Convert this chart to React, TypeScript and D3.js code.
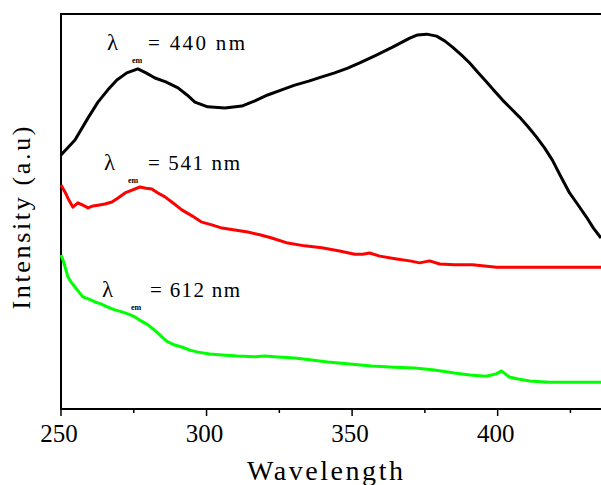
import React, { useRef, useEffect } from "react";
import * as d3 from "d3";

// excitation spectra (wavelength nm / intensity a.u.)
const blackX = [250, 254.8, 259.3, 262.7, 266.1, 269.2, 272.6, 276.4, 279.2, 282.3, 286, 290.2, 293.3, 296, 300.4, 306.3, 312.1, 316.6, 321, 325.8, 330.3, 335.1, 339.6, 344, 348.5, 352.6, 357.8, 363.9, 369.8, 372.5, 375.6, 379, 381.8, 384.5, 387.6, 390.4, 393.1, 396.2, 398.9, 401.7, 404.4, 407.5, 410.3, 413.3, 416.1, 418.8, 421.6, 424.7, 427.4, 430.5, 432.9, 435.5];
const blackY = [64.3, 68.1, 73.7, 77.7, 80.8, 83.3, 85.1, 86.1, 85.1, 83.8, 82.8, 81.3, 79.5, 77.7, 76.5, 76.2, 76.7, 78, 79.5, 80.8, 82, 83, 84.1, 85.1, 86.3, 87.6, 89.4, 91.6, 93.9, 94.7, 94.9, 94.4, 93.2, 91.6, 89.6, 87.6, 85.3, 82.8, 80.5, 78.2, 76.2, 73.9, 71.6, 68.9, 66.1, 63, 59, 54.7, 51.9, 48.6, 45.8, 43.3];

const redX = [250, 251.4, 252.7, 254.1, 255.8, 257.5, 259.3, 261, 262.7, 265.1, 267.5, 269.6, 272, 274.4, 277.1, 279.2, 281.2, 283.3, 285.7, 288.4, 291.5, 295, 298.4, 301.8, 305.3, 309.7, 314.2, 318.3, 322.4, 327.9, 333.7, 339.6, 345.7, 350.9, 353.6, 356, 359.5, 365.3, 369.8, 373.2, 376.6, 380.1, 385.2, 391.4, 395.5, 399.6, 407.5, 417.8, 427.4, 435.5];
const redY = [56.7, 54.9, 52.9, 51.1, 52.2, 51.6, 50.9, 51.4, 51.6, 51.9, 52.4, 53.4, 54.7, 55.4, 56.2, 55.9, 55.7, 54.7, 53.7, 52.2, 50.4, 48.9, 47.3, 46.6, 45.8, 45.3, 44.8, 44.1, 43.3, 42, 41.3, 40.8, 40, 39.2, 39.2, 39.5, 38.7, 38, 37.5, 37, 37.5, 36.7, 36.5, 36.5, 36.2, 35.9, 35.9, 35.9, 35.9, 35.9];

const greenX = [250, 250.7, 251.7, 252.4, 253.4, 254.8, 256.2, 257.5, 259.6, 261.7, 263.7, 266.1, 268.5, 270.9, 273, 275.4, 277.5, 279.9, 281.6, 283.3, 285, 286.7, 289.1, 291.5, 294.3, 297, 301.1, 305.3, 310.7, 316.6, 320, 323.4, 330.3, 336.1, 341.6, 349.2, 356.7, 364.6, 371.5, 378.3, 385.2, 390.4, 396, 399.5, 401.2, 402.6, 404, 407, 411, 417.8, 427.4, 435.5];
const greenY = [39, 37.7, 35.2, 33.4, 32.2, 30.9, 29.6, 28.4, 27.8, 27.1, 26.6, 25.8, 25.1, 24.6, 24.1, 23.3, 22.3, 21.3, 20.3, 19.2, 18, 17, 16.2, 15.7, 14.9, 14.4, 13.9, 13.7, 13.4, 13.2, 13.4, 13.2, 12.9, 12.4, 11.9, 11.4, 10.9, 10.6, 10.4, 9.9, 9.1, 8.6, 8.3, 8.9, 9.6, 8.9, 8.1, 7.6, 7.1, 6.8, 6.8, 6.8];

const seriesColors = ["#000000", "#ff0000", "#00ff00"];
const emissionLabels = ["= 440 nm", "= 541 nm", "= 612 nm"];
const xTicks = [250, 300, 350, 400];
const xMinorTicks = [275, 325, 375, 425];

function App() {
  const svgRef = useRef(null);

  useEffect(() => {
    const width = 601,
      height = 485;
    const margin = { top: 14, right: 0, bottom: 76, left: 61 };

    const svg = d3.select(svgRef.current);
    svg.selectAll("*").remove();

    const x = d3
      .scaleLinear()
      .domain([250, 435.5])
      .range([margin.left, width - margin.right]);
    const y = d3
      .scaleLinear()
      .domain([0, 100])
      .range([height - margin.bottom, margin.top]);

    const font = "Liberation Serif, Tinos, Times New Roman, DejaVu Serif, serif";

    // frame (right side runs off the picture)
    svg
      .append("path")
      .attr("d", `M${width + 5},${y(100)}H${x(250)}V${y(0)}H${width + 5}`)
      .attr("fill", "none")
      .attr("stroke", "#000")
      .attr("stroke-width", 2);

    const xAxis = svg
      .append("g")
      .attr("transform", "translate(0," + y(0) + ")");

    xAxis
      .selectAll(".major")
      .data(xTicks)
      .join("line")
      .attr("class", "major")
      .attr("x1", (d) => x(d))
      .attr("x2", (d) => x(d))
      .attr("y1", 0)
      .attr("y2", 7)
      .attr("stroke", "#000")
      .attr("stroke-width", 1.5);

    xAxis
      .selectAll(".minor")
      .data(xMinorTicks)
      .join("line")
      .attr("class", "minor")
      .attr("x1", (d) => x(d))
      .attr("x2", (d) => x(d))
      .attr("y1", 0)
      .attr("y2", 4)
      .attr("stroke", "#000")
      .attr("stroke-width", 1.5);

    xAxis
      .selectAll(".tickLabel")
      .data(xTicks)
      .join("text")
      .attr("class", "tickLabel")
      .attr("x", (d) => x(d) - 2)
      .attr("y", 33)
      .attr("text-anchor", "middle")
      .style("font-family", font)
      .attr("font-size", 25)
      .attr("fill", "#000")
      .text((d) => d);

    svg
      .append("text")
      .attr("x", 325)
      .attr("y", 480)
      .attr("text-anchor", "middle")
      .style("font-family", font)
      .attr("font-size", 28)
      .attr("textLength", 156)
      .attr("fill", "#000")
      .text("Wavelength");

    svg
      .append("text")
      .attr("transform", "translate(30,218) rotate(-90)")
      .attr("text-anchor", "middle")
      .style("font-family", font)
      .attr("font-size", 26)
      .attr("textLength", 183)
      .attr("fill", "#000")
      .text("Intensity (a.u)");

    const line = d3
      .line()
      .x((d) => x(d[0]))
      .y((d) => y(d[1]));

    const series = [
      d3.zip(blackX, blackY),
      d3.zip(redX, redY),
      d3.zip(greenX, greenY),
    ];

    svg
      .selectAll(".spectrum")
      .data(series)
      .join("path")
      .attr("class", "spectrum")
      .attr("d", line)
      .attr("fill", "none")
      .attr("stroke", (d, i) => seriesColors[i])
      .attr("stroke-width", 3)
      .attr("stroke-linejoin", "round");

    // lambda_em labels
    const labelPos = [
      { lx: 107, sx: 132, ex: 148, by: 50, w: 97 },
      { lx: 104, sx: 128, ex: 148, by: 170, w: 92 },
      { lx: 102, sx: 131, ex: 150, by: 297, w: 90 },
    ];

    const lab = svg
      .selectAll(".emLabel")
      .data(emissionLabels)
      .join("g")
      .attr("class", "emLabel")
      .style("font-family", font)
      .attr("fill", "#000");

    lab
      .append("text")
      .attr("x", (d, i) => labelPos[i].lx)
      .attr("y", (d, i) => labelPos[i].by)
      .attr("font-size", 23)
      .text("λ");

    lab
      .append("text")
      .attr("x", (d, i) => labelPos[i].sx)
      .attr("y", (d, i) => labelPos[i].by + 13)
      .attr("font-size", 8)
      .attr("font-weight", "bold")
      .text("em");

    lab
      .append("text")
      .attr("x", (d, i) => labelPos[i].ex)
      .attr("y", (d, i) => labelPos[i].by)
      .attr("font-size", 21)
      .attr("textLength", (d, i) => labelPos[i].w)
      .text((d) => d);
  }, []);

  return (
    <div style={{ position: "absolute", left: 0, top: 0 }}>
      <svg
        ref={svgRef}
        width={601}
        height={485}
        style={{ display: "block", background: "#fff" }}
      ></svg>
    </div>
  );
}

export default App;
